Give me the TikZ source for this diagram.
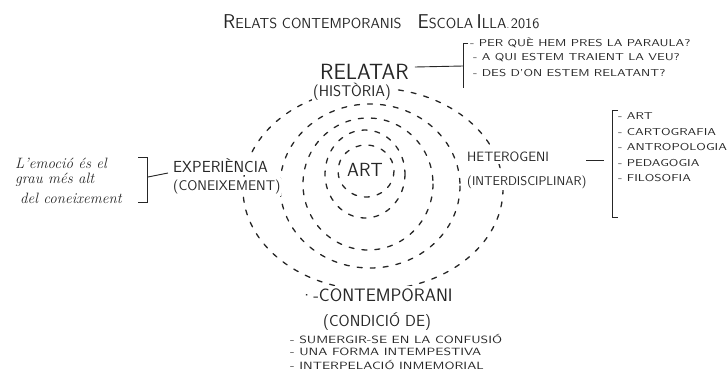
\documentclass[tikz,border=0pt]{standalone}
\usepackage{fontspec}
\usepackage{tikz}
\usetikzlibrary{positioning,calc}
\newcommand\petita[2]{{\fontsize{20}{22}\selectfont #1}{\fontsize{14.5}{16}\selectfont #2}}
\newcommand\ample[1]{\scalebox{1.3}[1]{#1}}
\tikzset{
  anell/.style={line width=1.3pt,dash pattern=on 5pt off 8pt,line cap=round},
  clau/.style={line width=0.9pt},
  gran/.style={inner sep=0pt,anchor=west,font=\sffamily\fontsize{22}{24}\selectfont},
  mitja/.style={inner sep=0pt,anchor=west,font=\sffamily\fontsize{15.5}{17}\selectfont},
  tapa/.style={fill=white,inner xsep=1pt,inner ysep=2pt},
  llista/.style={inner sep=0pt,anchor=west,font=\sffamily\fontsize{10}{11}\selectfont},
  nota/.style={inner sep=0pt,anchor=west,font=\itshape\fontsize{15}{17}\selectfont},
}
\begin{document}
\begin{tikzpicture}[x=1pt,y=-1pt,color=black!85]
  \useasboundingbox (0,0) rectangle (728,376);
  % titol
  \node[inner sep=0pt,anchor=west,font=\sffamily] (titol) at (223,22)
    {\petita{R}{ELATS CONTEMPORANIS}\hspace{16pt}\petita{E}{SCOLA} \petita{I}{LLA}.\,{\fontsize{14.5}{16}\selectfont 2016}};
  % anells
  \draw[anell] (373,189) ellipse [x radius=130,y radius=101];
  \draw[anell] (370,186) ellipse [x radius=90,y radius=82];
  \draw[anell] (368,184) ellipse [x radius=65,y radius=66];
  \draw[anell] (365,174) ellipse [x radius=40,y radius=44];
  \draw[anell] (366,171) ellipse [x radius=28,y radius=26];
  % etiquetes
  \node[gran,font=\sffamily\fontsize{19}{21}\selectfont] (art) at (347,170) {ART};
  \node[gran] (relatar) at (320,72) {RELATAR};
  \node[mitja,tapa] (historia) at (312,92) {(HISTÒRIA)};
  \node[mitja,tapa,font=\sffamily\fontsize{16}{18}\selectfont] (exper) at (172,166) {EXPERIÈNCIA};
  \node[mitja,tapa,font=\sffamily\fontsize{14}{16}\selectfont] (conei) at (172,187) {(CONEIXEMENT)};
  \node[mitja,tapa,font=\sffamily\fontsize{13.5}{15}\selectfont] (hetero) at (466,157) {HETEROGENI};
  \node[mitja,tapa,font=\sffamily\fontsize{12.7}{14}\selectfont] (inter) at (466,182) {(INTERDISCIPLINAR)};
  \node[gran,tapa,font=\sffamily\fontsize{18}{20}\selectfont] (contemp) at (299,295) {·-CONTEMPORANI};
  \node[mitja,font=\sffamily\fontsize{16}{18}\selectfont] (condicio) at (323,322) {(CONDICIÓ DE)};
  % llistes
  \node[llista] (pq1) at (470,43) {\ample{- PER QUÈ HEM PRES LA PARAULA?}};
  \node[llista] (pq2) at (473,58) {\ample{- A QUI ESTEM TRAIENT LA VEU?}};
  \node[llista] (pq3) at (473,73) {\ample{- DES D'ON ESTEM RELATANT?}};
  \foreach \t [count=\i] in {ART,CARTOGRAFIA,ANTROPOLOGIA,PEDAGOGIA,FILOSOFIA}
    \node[llista] (dis\i) at (618,101+15.5*\i) {\ample{- \t}};
  \node[llista,font=\sffamily\fontsize{10.5}{12}\selectfont] (c1) at (290,339) {\ample{- SUMERGIR-SE EN LA CONFUSIÓ}};
  \node[llista,font=\sffamily\fontsize{10.5}{12}\selectfont] (c2) at (290,352) {\ample{- UNA FORMA INTEMPESTIVA}};
  \node[llista,font=\sffamily\fontsize{10.5}{12}\selectfont] (c3) at (290,365) {\ample{- INTERPELACIÓ INMEMORIAL}};
  \node[nota] (n1) at (15,163) {L'emoció és el};
  \node[nota] (n2) at (15,180) {grau més alt};
  \node[nota] (n3) at (20,198) {del coneixement};
  % claus
  \draw[clau] (468,43) -- (463,43) -- (463,88);
  \draw[clau] (138,157) -- (147,157) -- (147,202) -- (138,202);
  \draw[clau] (618,110) -- (612,110) -- (612,217) -- (618,217);
  \coordinate (rk) at (463,66);
  \coordinate (lk) at (148,177);
  \coordinate (hk) at (586,160);
  \coordinate (hk2) at (604,160);
  \draw[clau] ($(relatar.east)+(6,-5)$) -- (rk);
  \draw[clau] (lk) -- ($(exper.west)+(-4,7)$);
  \draw[clau] (hk) -- (hk2);
\end{tikzpicture}
\end{document}
